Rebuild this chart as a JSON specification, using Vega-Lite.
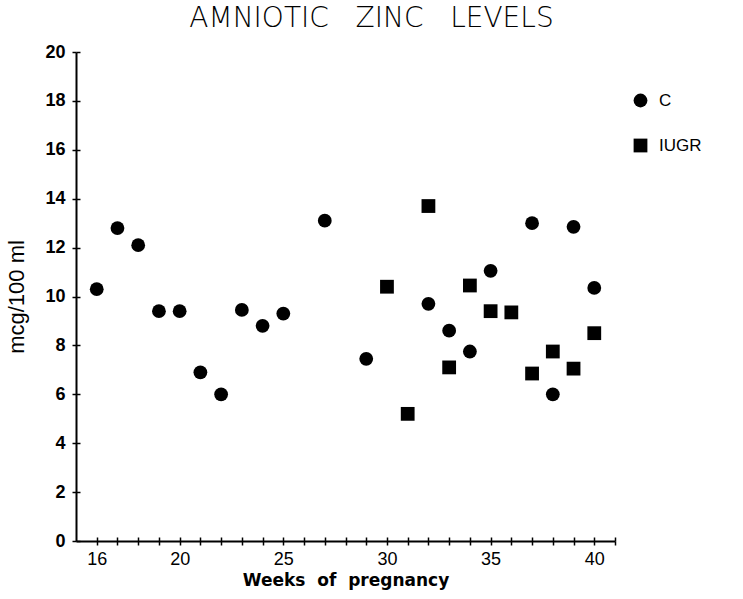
{
  "$schema": "https://vega.github.io/schema/vega-lite/v6.json",
  "width": 539,
  "height": 489,
  "autosize": {"type": "none"},
  "padding": {"left": 76, "top": 52, "right": 128, "bottom": 58},
  "background": "white",
  "title": {
    "text": "AMNIOTIC\u00a0\u00a0 ZINC\u00a0\u00a0 LEVELS",
    "font": "DejaVu Sans",
    "fontSize": 28,
    "fontWeight": 200,
    "color": "black",
    "anchor": "middle",
    "dx": 26,
    "offset": 10
  },
  "config": {
    "view": {"stroke": null},
    "axis": {"grid": false, "domainColor": "black", "tickColor": "black", "domainWidth": 2, "tickWidth": 1.5, "labelColor": "black", "titleColor": "black"}
  },
  "data": {
    "values": [
      {"week": 16, "zinc": 10.3, "group": "C"},
      {"week": 17, "zinc": 12.8, "group": "C"},
      {"week": 18, "zinc": 12.1, "group": "C"},
      {"week": 19, "zinc": 9.4, "group": "C"},
      {"week": 20, "zinc": 9.4, "group": "C"},
      {"week": 21, "zinc": 6.9, "group": "C"},
      {"week": 22, "zinc": 6.0, "group": "C"},
      {"week": 23, "zinc": 9.45, "group": "C"},
      {"week": 24, "zinc": 8.8, "group": "C"},
      {"week": 25, "zinc": 9.3, "group": "C"},
      {"week": 27, "zinc": 13.1, "group": "C"},
      {"week": 29, "zinc": 7.45, "group": "C"},
      {"week": 32, "zinc": 9.7, "group": "C"},
      {"week": 33, "zinc": 8.6, "group": "C"},
      {"week": 34, "zinc": 7.75, "group": "C"},
      {"week": 35, "zinc": 11.05, "group": "C"},
      {"week": 37, "zinc": 13.0, "group": "C"},
      {"week": 38, "zinc": 6.0, "group": "C"},
      {"week": 39, "zinc": 12.85, "group": "C"},
      {"week": 40, "zinc": 10.35, "group": "C"},
      {"week": 30, "zinc": 10.4, "group": "IUGR"},
      {"week": 31, "zinc": 5.2, "group": "IUGR"},
      {"week": 32, "zinc": 13.7, "group": "IUGR"},
      {"week": 33, "zinc": 7.1, "group": "IUGR"},
      {"week": 34, "zinc": 10.45, "group": "IUGR"},
      {"week": 35, "zinc": 9.4, "group": "IUGR"},
      {"week": 36, "zinc": 9.35, "group": "IUGR"},
      {"week": 37, "zinc": 6.85, "group": "IUGR"},
      {"week": 38, "zinc": 7.75, "group": "IUGR"},
      {"week": 39, "zinc": 7.05, "group": "IUGR"},
      {"week": 40, "zinc": 8.5, "group": "IUGR"}
    ]
  },
  "layer": [
    {
      "mark": {"type": "point", "filled": true, "opacity": 0, "size": 1},
      "encoding": {
        "x": {
          "field": "week",
          "type": "quantitative",
          "scale": {"domain": [15, 41], "nice": false, "zero": false},
          "axis": {
            "orient": "bottom",
            "title": null,
            "labels": false,
            "domain": false,
            "values": [16,17,18,19,20,21,22,23,24,25,26,27,28,29,30,31,32,33,34,35,36,37,38,39,40,41],
            "tickSize": -4
          }
        },
        "y": {
          "field": "zinc",
          "type": "quantitative",
          "scale": {"domain": [0, 20], "nice": false},
          "axis": {
            "orient": "left",
            "title": null,
            "labels": false,
            "domain": false,
            "values": [0,2,4,6,8,10,12,14,16,18,20],
            "tickSize": -4
          }
        }
      }
    },
    {
      "mark": {"type": "point", "filled": true, "opacity": 1, "size": 190, "color": "black"},
      "encoding": {
        "x": {
          "field": "week",
          "type": "quantitative",
          "scale": {"domain": [15, 41], "nice": false, "zero": false},
          "axis": {
            "orient": "bottom",
            "title": "Weeks\u00a0\u00a0of\u00a0\u00a0pregnancy",
            "values": [16,17,18,19,20,21,22,23,24,25,26,27,28,29,30,31,32,33,34,35,36,37,38,39,40,41],
            "labelExpr": "indexof([16,20,25,30,35,40], datum.value) >= 0 ? datum.label : ''",
            "tickSize": 4,
            "labelPadding": 5,
            "labelFont": "Liberation Sans",
            "labelFontSize": 18,
            "titleFont": "DejaVu Sans",
            "titleFontSize": 17,
            "titleFontWeight": 600,
            "titlePadding": 4
          }
        },
        "y": {
          "field": "zinc",
          "type": "quantitative",
          "scale": {"domain": [0, 20], "nice": false},
          "axis": {
            "orient": "left",
            "title": "mcg/100 ml",
            "values": [0,2,4,6,8,10,12,14,16,18,20],
            "tickSize": 4,
            "labelPadding": 7,
            "labelFont": "Liberation Sans",
            "labelFontWeight": "bold",
            "labelFontSize": 18,
            "titleFont": "Liberation Sans",
            "titleFontSize": 22,
            "titleFontWeight": "normal",
            "titlePadding": 16
          }
        },
        "shape": {
          "field": "group",
          "type": "nominal",
          "scale": {"domain": ["C", "IUGR"], "range": ["circle", "square"]},
          "legend": {
            "title": null,
            "orient": "none",
            "legendX": 556,
            "legendY": 40,
            "symbolSize": 190,
            "symbolFillColor": "black",
            "symbolStrokeColor": "black",
            "symbolType": "circle",
            "labelFont": "Liberation Sans",
            "labelFontSize": 17,
            "labelColor": "black",
            "rowPadding": 24,
            "labelOffset": 10
          }
        }
      }
    }
  ],
  "resolve": {"axis": {"x": "independent", "y": "independent"}}
}
